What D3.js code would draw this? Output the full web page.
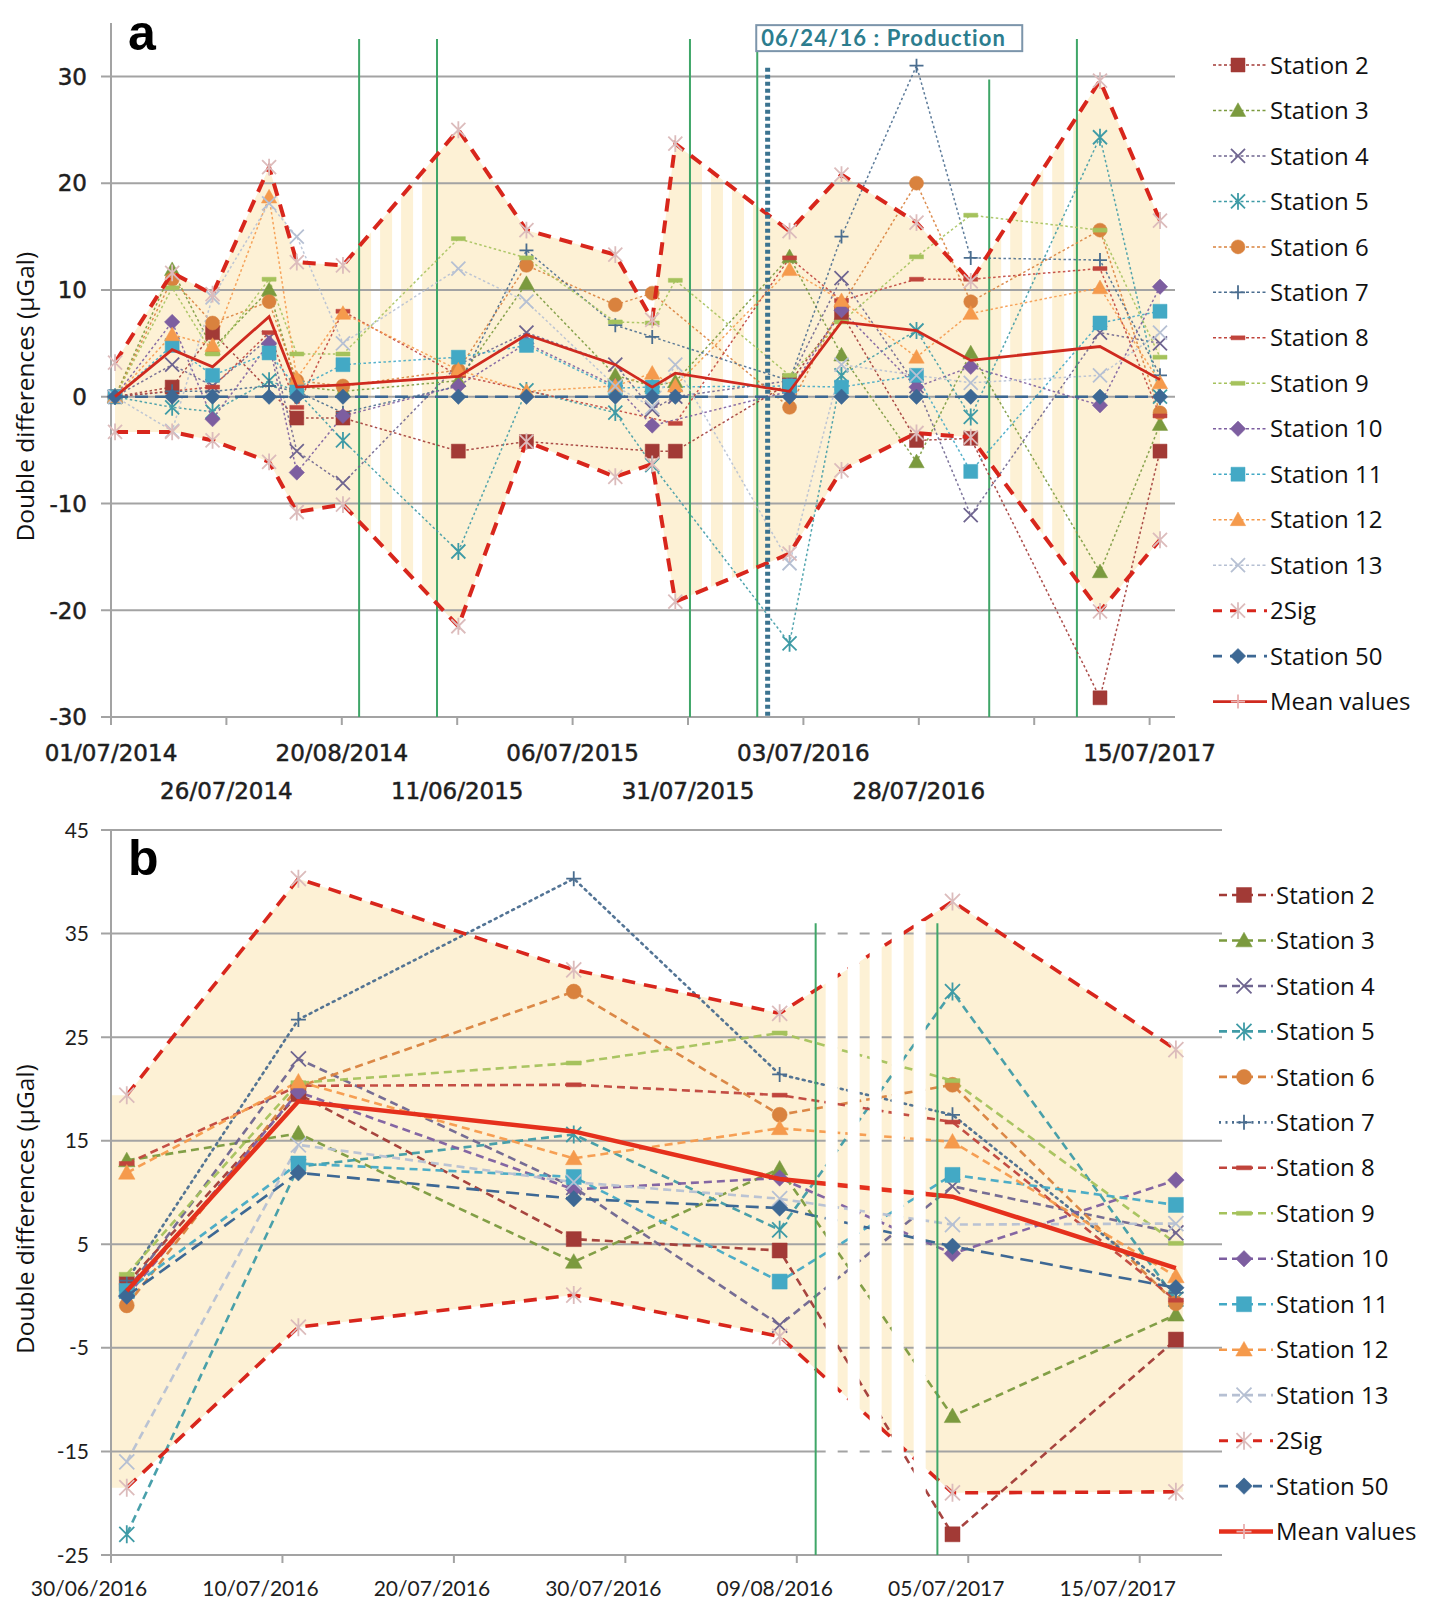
<!DOCTYPE html>
<html>
<head>
<meta charset="utf-8">
<script src="https://cdn.jsdelivr.net/npm/d3@7"></script>
<style>
body{margin:0;background:#fff}
text{font-family:"Open Sans",sans-serif}
</style>
</head>
<body>
<svg id="chart" width="1429" height="1620"></svg>
<script>
// ---------- panel a : 17 survey epochs ----------
const aTickLabels=["01/07/2014","26/07/2014","20/08/2014","11/06/2015","06/07/2015","31/07/2015","03/07/2016","28/07/2016","","15/07/2017"];
const aLabelRows=[0,1,0,1,0,1,0,1,0,0];
const aYTicks=[-30,-20,-10,0,10,20,30];
const aCols=[0.035,0.53,0.88,1.37,1.61,2.01,3.01,3.60,4.37,4.69,4.89,5.88,6.33,6.98,7.45,8.57,9.09];
const aS2 =[0,0.9,6,null,-2,-2,-5.1,-4.2,null,-5.1,-5.1,1.3,7.8,-4.1,-3.9,-28.2,-5.1];
const aS3 =[0,11.9,4.5,10,1,0.5,1.5,10.6,2,1,1.4,13.1,3.9,-6.1,4.1,-16.4,-2.6];
const aS4 =[0,3,1,5.5,-5.1,-8.1,3,6,3,-1.2,0,1.5,11.1,1,-11.1,6,5];
const aS5 =[0,-1,-1.4,1.5,0.5,-4.1,-14.5,0.6,-1.5,-6.4,null,-23.1,2,6.2,-1.9,24.3,0];
const aS6 =[0,11,6.9,8.9,1.5,1,2.5,12.3,8.6,9.7,null,-1,8.5,20,8.9,15.6,-1.5];
const aS7 =[0,0.5,0.5,1,0.5,-1.5,1,13.7,6.7,5.6,null,1.5,15,31,13,12.8,2];
const aS8 =[0,null,0.9,6,-1,8,2,null,null,null,-2.5,13,9,11,11,12,-1.8];
const aS9 =[0,10.2,4,11,4,4,14.8,13,7,6.9,10.9,2,7,13.1,17,15.6,3.7];
const aS10=[0,7,-2.1,5,-7.1,-1.8,1,5,1,-2.7,null,0.5,8.1,0.9,2.8,-0.8,10.3];
const aS11=[0,4.8,2,4.1,0.8,3,3.7,4.8,0.8,0.9,null,1,0.9,2,-7,6.9,8];
const aS12=[0,5.8,4.8,18.7,1.7,7.8,2.5,0.5,1,2.2,1,11.9,9,3.7,7.8,10.2,1.3];
const aS13=[0,-3.2,9.3,18.1,15,5,12,8.9,1,-1,3,-15.6,3,2,1.3,2,6];
const aS50=[0,0,0,0,0,0,0,0,0,0,0,0,0,0,0,0,0];
const aSigUp=[3.2,11.6,9.6,21.5,12.6,12.3,25,15.6,13.3,7.2,23.7,15.5,20.8,16.3,10.8,29.6,16.5];
const aSigLo=[-3.3,-3.3,-4.1,-6.1,-10.8,-10.1,-21.5,-4.2,-7.5,-6.3,-19.2,-14.7,-6.9,-3.4,-3.8,-20.1,-13.4];
const aMean=[0,4.4,2.8,7.5,0.9,1.1,1.9,5.8,3,0.9,2.2,0.5,7,6.2,3.4,4.7,1.6];
const aBreaks=[[2.15,2.825],[5.017,5.6],[7.61,8.37]];
const aBreakTops=[33.5,33.5,33.5,32.6,29.7,33.5];
const aProduction=5.69;

// ---------- panel b : 6 survey epochs ----------
const bTickLabels=["30/06/2016","10/07/2016","20/07/2016","30/07/2016","09/08/2016","05/07/2017","15/07/2017"];
const bLabelRows=[0,0,0,0,0,0,0];
const bYTicks=[-25,-15,-5,5,15,25,35,45];
const bCols=[0.092,1.093,2.699,3.9,4.908,6.211];
const bS2 =[1.2,19.5,5.5,4.4,-23,-4.2];
const bS3 =[13.1,15.7,3.3,12.3,-11.6,-1.8];
const bS4 =[0.5,22.9,10.5,-2.8,10.6,6.1];
const bS5 =[-23,12.5,15.6,6.4,29.4,-0.3];
const bS6 =[-0.9,20.2,29.4,17.5,20.4,-0.7];
const bS7 =[1.5,26.7,40.3,21.4,17.5,0.3];
const bS8 =[12.8,20.3,20.4,19.4,16.8,-0.4];
const bS9 =[2.1,20.6,22.5,25.4,20.8,5.1];
const bS10=[0,19.7,10.3,11.4,4.1,11.2];
const bS11=[0.5,12.8,11.5,1.4,11.7,8.8];
const bS12=[11.9,20.7,13.3,16.2,14.9,1.9];
const bS13=[-16,14.6,11,9.4,6.9,7];
const bS50=[0,11.9,9.4,8.5,4.8,0.8];
const bSigUp=[19.4,40.3,31.5,27.3,38.1,23.8];
const bSigLo=[-18.5,-3,0.1,-3.9,-19,-18.9];
const bMean=[0.5,18.8,15.9,11.3,9.6,2.7];
const bBreaks=[[4.11,4.82]];

const stationNames=["Station 2","Station 3","Station 4","Station 5","Station 6","Station 7","Station 8","Station 9","Station 10","Station 11","Station 12","Station 13"];
const stationMarkers=["square","triangle","x","star","circle","plus","dash","dash","diamond","square","triangle","x"];
const stationColors=["#a23a36","#7b9a3e","#6f6590","#3f9ba6","#d9823e","#4a6d8f","#c0443c","#a5c25c","#7d5ea0","#43a9c5","#f59a4c","#b6c0d3"];

function markerPath(type,s){
	const h=s/2;
	switch(type){
		case "square": return `M${-h},${-h}h${s}v${s}h${-s}Z`;
		case "triangle": return `M0,${-h*1.1}L${h*1.1},${h*0.85}L${-h*1.1},${h*0.85}Z`;
		case "diamond": return `M0,${-h*1.1}L${h*1.1},0L0,${h*1.1}L${-h*1.1},0Z`;
		case "circle": return `M${h},0A${h},${h} 0 1,1 ${-h},0A${h},${h} 0 1,1 ${h},0Z`;
		case "x": return `M${-h},${-h}L${h},${h}M${-h},${h}L${h},${-h}`;
		case "star": return `M${-h},${-h}L${h},${h}M${-h},${h}L${h},${-h}M0,${-h*1.2}V${h*1.2}`;
		case "plus": return `M${-h},0H${h}M0,${-h}V${h}`;
		case "dash": return `M${-h},-2h${s}v4h${-s}Z`;
	}
}
const filled=t=>["square","triangle","diamond","circle","dash"].includes(t);

function drawMarker(g,type,color,size,cx,cy){
	const p=g.append("path").attr("d",markerPath(type,size))
		.attr("transform",`translate(${cx},${cy})`);
	if(filled(type)) p.attr("fill",color).attr("stroke",color).attr("stroke-width",0.5);
	else p.attr("fill","none").attr("stroke",color).attr("stroke-width",1.8);
}

const svg=d3.select("#chart");

function drawPanel(p){
	const g=svg.append("g");
	const x=d3.scaleLinear().domain(p.xDomain).range([p.left,p.right]);
	const y=d3.scaleLinear().domain(p.yDomain).range([p.bottom,p.top]);
	const pts=(vals)=>vals.map((v,i)=>({x:p.cols[i],v:v})).filter(d=>d.v!==null);
	const line=d3.line().x(d=>x(d.x)).y(d=>y(d.v));

	// band between the 2 sigma limits
	const band=p.cols.map((c,i)=>({x:c,up:p.sigUp[i],lo:p.sigLo[i]}));
	if(p.extendBand){
		band.unshift({x:p.xDomain[0],up:p.sigUp[0],lo:p.sigLo[0]});
		band.push({x:p.cols[p.cols.length-1]+0.04,up:p.sigUp[p.sigUp.length-1],lo:p.sigLo[p.sigLo.length-1]});
	}
	g.append("path").datum(band)
		.attr("d",d3.area().x(d=>x(d.x)).y0(d=>y(d.lo)).y1(d=>y(d.up)))
		.attr("fill","#fdf1d5");

	const stripes=g.append("g");
	function addStripes(){
		const top=y(p.stripeTop);
		p.breaks.forEach(b=>{
			for(let sx=x(b[0])+p.stripeOff;sx+p.stripeW<=x(b[1])+1;sx+=p.stripePitch){
				stripes.append("rect").attr("x",sx).attr("y",top)
					.attr("width",p.stripeW).attr("height",p.bottom-top-2).attr("fill","#fff");
			}
		});
	}
	if(!p.stripesOnTop) addStripes();

	// gridlines
	g.append("g").selectAll("line").data(p.yTicks).join("line")
		.attr("x1",p.left-10).attr("x2",p.right)
		.attr("y1",d=>y(d)).attr("y2",d=>y(d))
		.attr("stroke","#a3a3a3").attr("stroke-width",2);
	g.append("g").selectAll("text").data(p.yTicks).join("text")
		.attr("x",p.yLabelX).attr("y",d=>y(d)).attr("dy","0.36em")
		.attr("text-anchor","end")
		.style("font-family",p.tickFont).style("font-size",p.tickSize+"px")
		.attr("fill","#1e1e1e").attr("stroke","#1e1e1e").attr("stroke-width",p.tickStroke)
		.text(d=>d);

	// axes
	g.append("line").attr("x1",p.left).attr("x2",p.left).attr("y1",p.axisTop).attr("y2",p.bottom)
		.attr("stroke","#a3a3a3").attr("stroke-width",2);
	const xt=d3.range(p.tickLabels.length);
	g.append("g").selectAll("line").data(xt).join("line")
		.attr("x1",d=>x(d)).attr("x2",d=>x(d)).attr("y1",p.bottom).attr("y2",p.bottom+8)
		.attr("stroke","#a3a3a3").attr("stroke-width",2);
	g.append("g").selectAll("text").data(xt).join("text")
		.attr("x",d=>x(d)+p.xLabelDx).attr("y",d=>p.xLabelY+p.labelRows[d]*p.rowGap)
		.attr("text-anchor","middle").attr("dy","0.36em")
		.style("font-family",p.tickFont).style("font-size",p.tickSize+"px")
		.attr("fill","#1e1e1e").attr("stroke","#1e1e1e").attr("stroke-width",p.tickStroke)
		.text(d=>p.tickLabels[d]);

	// green break lines
	function greenLines(){
		p.breaks.forEach((b,i)=>{
			b.forEach((bx,j)=>{
				g.append("line").attr("x1",x(bx)).attr("x2",x(bx))
					.attr("y1",y(p.breakTops[i*2+j])).attr("y2",p.bottom)
					.attr("stroke","#3fa668").attr("stroke-width",2);
			});
		});
	}
	if(!p.stripesOnTop) greenLines();

	// station series
	p.stations.forEach((vals,i)=>{
		const dash=(p.dottedIdx===i)?"2,4.5":p.stationDash;
		g.append("path").datum(pts(vals)).attr("d",line)
			.attr("fill","none").attr("stroke",stationColors[i])
			.attr("stroke-width",p.stationWidth).attr("stroke-dasharray",dash)
			.attr("stroke-linecap",p.dottedIdx===i?"round":"butt")
			.attr("opacity",p.stationOpacity);
	});
	p.stations.forEach((vals,i)=>{
		pts(vals).forEach(d=>drawMarker(g,stationMarkers[i],stationColors[i],p.markerSize,x(d.x),y(d.v)));
	});

	// 2 sigma limits
	[p.sigUp,p.sigLo].forEach(vals=>{
		g.append("path").datum(pts(vals)).attr("d",line)
			.attr("fill","none").attr("stroke","#d8261c").attr("stroke-width",p.sigWidth)
			.attr("stroke-dasharray","13,9");
		pts(vals).forEach(d=>drawMarker(g,"star","#dcbcbc",p.markerSize,x(d.x),y(d.v)));
	});

	// station 50 (reference)
	g.append("path").datum(pts(p.s50)).attr("d",line)
		.attr("fill","none").attr("stroke","#3d6894").attr("stroke-width",2.6)
		.attr("stroke-dasharray","13,7");
	pts(p.s50).forEach(d=>drawMarker(g,"diamond","#3d6894",p.markerSize,x(d.x),y(d.v)));

	// mean
	g.append("path").datum(pts(p.mean)).attr("d",line)
		.attr("fill","none").attr("stroke",p.meanColor).attr("stroke-width",p.meanWidth);

	if(p.stripesOnTop){ stripes.raise(); addStripes(); greenLines(); }

	// production date line and label
	if(p.production!==undefined){
		g.append("line").attr("x1",x(p.production)).attr("x2",x(p.production))
			.attr("y1",y(30.8)).attr("y2",p.bottom)
			.attr("stroke","#3b7390").attr("stroke-width",5).attr("stroke-dasharray","4,3");
		const bx=x(p.breaks[1][1]);
		g.append("rect").attr("x",bx-1).attr("y",y(34.8)).attr("width",266).attr("height",26)
			.attr("fill","#fff").attr("stroke","#7c95ab").attr("stroke-width",2);
		g.append("text").attr("x",bx+4).attr("y",y(34.8)+13).attr("dy","0.36em")
			.style("font-family","Lato").style("font-size","22px").style("font-weight","bold")
			.style("letter-spacing","1.1px")
			.attr("fill","#2c7d8e").text("06/24/16 : Production");
	}

	// panel letter and axis title
	g.append("text").attr("x",p.left+17).attr("y",p.letterY)
		.style("font-family","'Liberation Sans',Arial").style("font-size","50px").style("font-weight","bold")
		.attr("fill","#000").text(p.letter);
	g.append("text").attr("transform",`translate(25,${y(p.titleAt)}) rotate(-90)`)
		.attr("text-anchor","middle").attr("dy","0.36em")
		.style("font-size","24.5px").attr("fill","#111").text("Double differences (\u00b5Gal)");

	// legend
	const lg=g.append("g");
	const entries=stationNames.map((n,i)=>({name:n,color:stationColors[i],marker:stationMarkers[i],
		dash:(p.dottedIdx===i)?"2,4.5":p.legendDash,width:p.stationWidth,mcolor:stationColors[i]}));
	entries.push({name:"2Sig",color:"#d8261c",marker:"star",dash:"9,8",width:3,mcolor:"#dcbcbc"});
	entries.push({name:"Station 50",color:"#3d6894",marker:"diamond",dash:"9,8",width:2.6,mcolor:"#3d6894"});
	entries.push({name:"Mean values",color:p.meanColor,marker:"plus",dash:null,width:p.meanWidth,mcolor:"#e8b0b0"});
	entries.forEach((e,i)=>{
		const ly=p.legendY+i*45.47;
		lg.append("line").attr("x1",p.legendX).attr("x2",p.legendX+54).attr("y1",ly).attr("y2",ly)
			.attr("stroke",e.color).attr("stroke-width",e.width).attr("stroke-dasharray",e.dash);
		drawMarker(lg,e.marker,e.mcolor,p.markerSize,p.legendX+25,ly);
		lg.append("text").attr("x",p.legendX+57).attr("y",ly).attr("dy","0.36em")
			.style("font-size","24px").attr("fill","#111").text(e.name);
	});
}

drawPanel({
	letter:"a",letterY:50,titleAt:0,
	cols:aCols,xDomain:[0,9.22],yDomain:[-30,35],
	left:111,right:1175,top:23,bottom:717,axisTop:23,
	yTicks:aYTicks,tickLabels:aTickLabels,labelRows:aLabelRows,
	tickFont:"'DejaVu Sans'",tickSize:23,tickStroke:0.5,yLabelX:87,
	xLabelY:753,xLabelDx:0,rowGap:38,
	stations:[aS2,aS3,aS4,aS5,aS6,aS7,aS8,aS9,aS10,aS11,aS12,aS13],
	s50:aS50,sigUp:aSigUp,sigLo:aSigLo,mean:aMean,
	stationDash:"2.5,2.5",legendDash:"3,2.5",stationWidth:1.5,stationOpacity:0.9,dottedIdx:-1,
	markerSize:14,sigWidth:4,meanColor:"#cf2a1f",meanWidth:2.8,
	breaks:aBreaks,breakTops:aBreakTops,stripeTop:35,stripeOff:12,stripePitch:21,stripeW:9,stripesOnTop:false,
	extendBand:false,production:aProduction,
	legendX:1213,legendY:65
});

drawPanel({
	letter:"b",letterY:875,titleAt:8.4,
	cols:bCols,xDomain:[0,6.48],yDomain:[-25,45],
	left:111,right:1222,top:830,bottom:1555,axisTop:830,
	yTicks:bYTicks,tickLabels:bTickLabels,labelRows:bLabelRows,
	tickFont:"Lato",tickSize:21,tickStroke:0,yLabelX:89,
	xLabelY:1588,xLabelDx:-22,rowGap:0,
	stations:[bS2,bS3,bS4,bS5,bS6,bS7,bS8,bS9,bS10,bS11,bS12,bS13],
	s50:bS50,sigUp:bSigUp,sigLo:bSigLo,mean:bMean,
	stationDash:"8,5",legendDash:"8,5",stationWidth:2.6,stationOpacity:0.95,dottedIdx:5,
	markerSize:15,sigWidth:3.6,meanColor:"#e5301c",meanWidth:4.5,
	breaks:bBreaks,breakTops:[36,36],stripeTop:36.2,stripeOff:10,stripePitch:22,stripeW:12,stripesOnTop:true,
	extendBand:true,
	legendX:1219,legendY:895
});
</script>
</body>
</html>
